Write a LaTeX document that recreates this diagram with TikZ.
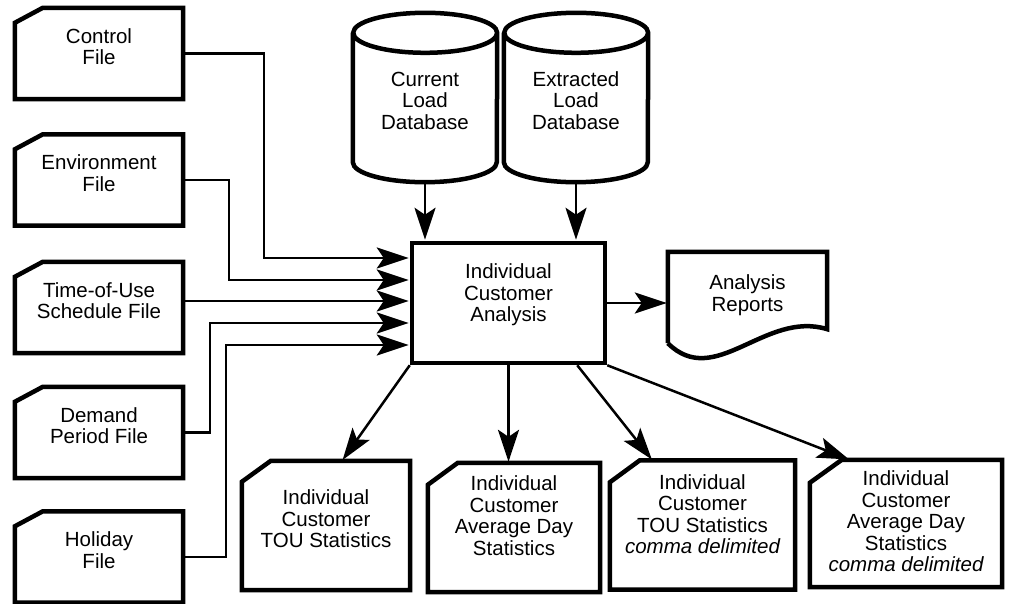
\documentclass[tikz,border=0pt]{standalone}
\usepackage{fontspec}
\setmainfont{Liberation Sans}
\usepackage{tikz}
\usetikzlibrary{positioning, calc, arrows.meta}

\begin{document}
\begin{tikzpicture}[x=1pt, y=-1pt,
    txt/.style={font=\fontsize{20.5}{21.5}\selectfont, align=center, inner sep=0pt},
    border/.style={line width=4.5pt, line join=miter},
    infile/.style={minimum width=168pt, minimum height=91pt, inner sep=0pt},
    outfile/.style={minimum height=129pt, inner sep=0pt},
    conn/.style={line width=2.5pt, line join=miter},
    arr/.style={conn, -{Stealth[length=32pt, width=21pt, inset=7pt]}, shorten >=1pt}]
  \useasboundingbox (0,0) rectangle (1010,604);
  % input files
  \foreach \nm/\yy/\txt in {
    ctl/53.5/{Control\\File},
    env/180/{Environment\\File},
    tou/307.5/{Time-of-Use\\Schedule File},
    dem/432.5/{Demand\\Period File},
    hol/557/{Holiday\\File}}{
    \node[infile] (\nm) at (99,\yy) {};
    \node[txt] (\nm-t) at ($(\nm)+(0,-7)$) {\txt};
  }
  % databases
  \foreach \nm/\xx/\txt in {
    db1/425/{Current\\Load\\Database},
    db2/576/{Extracted\\Load\\Database}}{
    \node[minimum width=144pt, minimum height=169pt, inner sep=0pt] (\nm) at (\xx,97.5) {};
    \draw[border] ($(\nm.north west)+(0,20)$) -- ($(\nm.south west)+(0,-20)$)
      arc[start angle=180, end angle=360, x radius=72pt, y radius=20pt]
      -- ($(\nm.north east)+(0,20)$)
      arc[start angle=0, end angle=180, x radius=72pt, y radius=20pt]
      arc[start angle=180, end angle=360, x radius=72pt, y radius=20pt];
    \node[txt] (\nm-t) at ($(\nm)+(0,3)$) {\txt};
  }
  % process
  \node[border, draw, minimum width=193pt, minimum height=120pt] (cust) at (508.5,303) {};
  \node[txt] (cust-t) at ($(cust)+(0,-8)$) {Individual\\Customer\\Analysis};
  % report
  \node[minimum width=159pt, minimum height=91pt, inner sep=0pt] (rpt) at (747.5,297.5) {};
  \draw[border] (rpt.south west) -- (rpt.north west) -- (rpt.north east)
    -- ($(rpt.south east)+(0,-14)$) .. controls (765,310) and (715,390) .. (rpt.south west);
  \node[txt] (rpt-t) at ($(rpt)+(0,-2.5)$) {Analysis\\Reports};
  % output files
  \node[outfile, minimum width=168pt] (o1) at (326,525.5) {};
  \node[outfile, minimum width=172pt] (o2) at (514,527.5) {};
  \node[outfile, minimum width=185pt] (o3) at (702.5,525) {};
  \node[outfile, minimum width=192pt, minimum height=127pt] (o4) at (906,523.5) {};
  \node[txt] (o1-t) at ($(o1)+(0,-6.5)$) {Individual\\Customer\\TOU Statistics};
  \node[txt] (o2-t) at ($(o2)+(0,-12)$) {Individual\\Customer\\Average Day\\Statistics};
  \node[txt] (o3-t) at ($(o3)+(0,-11)$) {Individual\\Customer\\TOU Statistics\\\itshape comma delimited};
  \node[txt] (o4-t) at ($(o4)+(0,-2)$) {Individual\\Customer\\Average Day\\Statistics\\\itshape comma delimited};
  % clipped file outlines
  \foreach \nm/\cx/\cy in {ctl/28/15, env/28/15, tou/28/15, dem/28/15, hol/28/15,
    o1/29/21, o2/30/22, o3/30/22, o4/32/23}
    \draw[border] ($(\nm.north west)+(\cx,0)$) -- (\nm.north east) -- (\nm.south east)
      -- (\nm.south west) -- ($(\nm.north west)+(0,\cy)$) -- cycle;
  % inputs to analysis
  \draw[arr] (ctl.east) -| (264,258) -- (cust.west |- 0,258);
  \draw[arr] (env.east) -| (229,280) -- (cust.west |- 0,280);
  \draw[arr] (tou.east |- 0,301) -- (cust.west |- 0,301);
  \draw[arr] (dem.east) -| (210,323) -- (cust.west |- 0,323);
  \draw[arr] (hol.east) -| (226,345) -- (cust.west |- 0,345);
  \draw[arr] (db1.south) -- (db1.south |- cust.north);
  \draw[arr] (db2.south) -- (db2.south |- cust.north);
  % outputs
  \draw[arr] (cust.east) -- (rpt.west |- cust.east);
  \draw[arr] (cust.south west) -- ([xshift=16pt]o1.north);
  \draw[arr] (cust.south) -- (cust.south |- o2.north);
  \draw[arr] ([xshift=-30pt]cust.south east) -- ([xshift=-50pt]o3.north);
  \draw[arr] (cust.south east) -- ([xshift=-56pt]o4.north);
\end{tikzpicture}
\end{document}
